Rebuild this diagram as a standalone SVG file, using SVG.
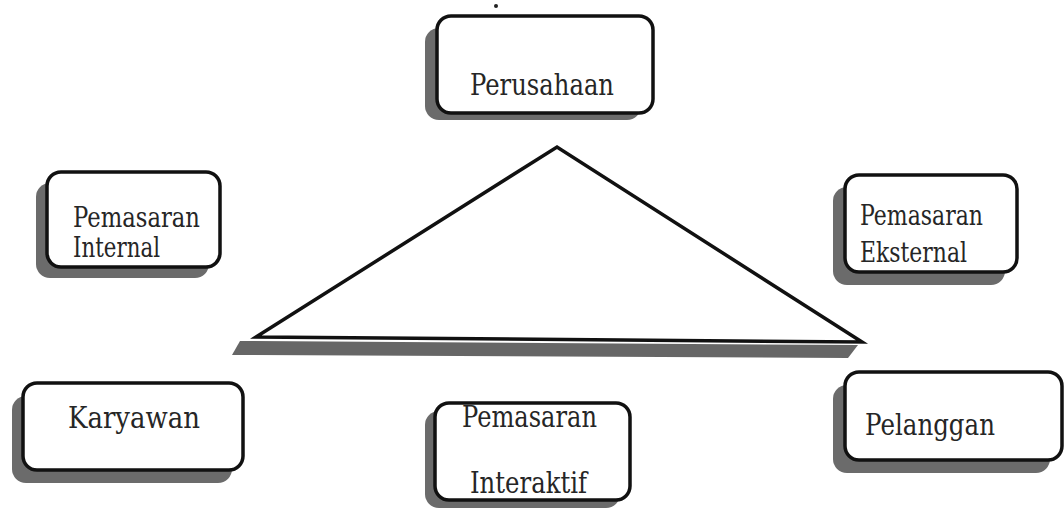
<svg xmlns="http://www.w3.org/2000/svg" width="1064" height="510" viewBox="0 0 1064 510">
  <defs>
    <style>
      .box { fill: #ffffff; stroke: #111111; stroke-width: 3.5; }
      .shadow { fill: #6b6b6b; }
      text { fill: #262626; font-family: 'DejaVu Serif', 'Liberation Serif', serif; }
    </style>
  </defs>
  <rect width="1064" height="510" fill="#ffffff"/>

  <g id="connectors">
    <polygon points="240,341 858,345 848,358 232,355" fill="#666666"/>
    <polygon points="256,337 557,147 862,342" fill="#ffffff" stroke="#111111" stroke-width="3.5" stroke-linejoin="miter"/>
  </g>

  <circle cx="496" cy="6" r="2" fill="#222222"/>

  <g id="perusahaan">
    <rect class="shadow" x="425" y="28" width="216" height="92" rx="14"/>
    <rect class="box" x="437" y="16" width="216" height="97" rx="14"/>
    <text x="470" y="95" font-size="29" textLength="144" lengthAdjust="spacingAndGlyphs">Perusahaan</text>
  </g>

  <g id="pemasaran-internal">
    <rect class="shadow" x="36" y="183" width="173" height="95" rx="14"/>
    <rect class="box" x="47" y="172" width="173" height="95" rx="14"/>
    <text x="73" y="227" font-size="27" textLength="127" lengthAdjust="spacingAndGlyphs">Pemasaran</text>
    <text x="73" y="257" font-size="27" textLength="87" lengthAdjust="spacingAndGlyphs">Internal</text>
  </g>

  <g id="pemasaran-eksternal">
    <rect class="shadow" x="833" y="187" width="172" height="98" rx="14"/>
    <rect class="box" x="845" y="175" width="172" height="97" rx="14"/>
    <text x="860" y="225" font-size="27" textLength="123" lengthAdjust="spacingAndGlyphs">Pemasaran</text>
    <text x="860" y="262" font-size="27" textLength="107" lengthAdjust="spacingAndGlyphs">Eksternal</text>
  </g>

  <g id="karyawan">
    <rect class="shadow" x="12" y="396" width="220" height="87" rx="14"/>
    <rect class="box" x="23" y="383" width="220" height="87" rx="14"/>
    <text x="68" y="428" font-size="29" textLength="132" lengthAdjust="spacingAndGlyphs">Karyawan</text>
  </g>

  <g id="pemasaran-interaktif">
    <rect class="shadow" x="425" y="411" width="195" height="97" rx="14"/>
    <rect class="box" x="435" y="403" width="195" height="97" rx="14"/>
    <text x="462" y="427" font-size="29" textLength="135" lengthAdjust="spacingAndGlyphs">Pemasaran</text>
    <text x="470" y="493" font-size="29" textLength="117" lengthAdjust="spacingAndGlyphs">Interaktif</text>
  </g>

  <g id="pelanggan">
    <rect class="shadow" x="833" y="385" width="217" height="88" rx="14"/>
    <rect class="box" x="845" y="372" width="217" height="88" rx="14"/>
    <text x="865" y="435" font-size="29" textLength="130" lengthAdjust="spacingAndGlyphs">Pelanggan</text>
  </g>
</svg>
